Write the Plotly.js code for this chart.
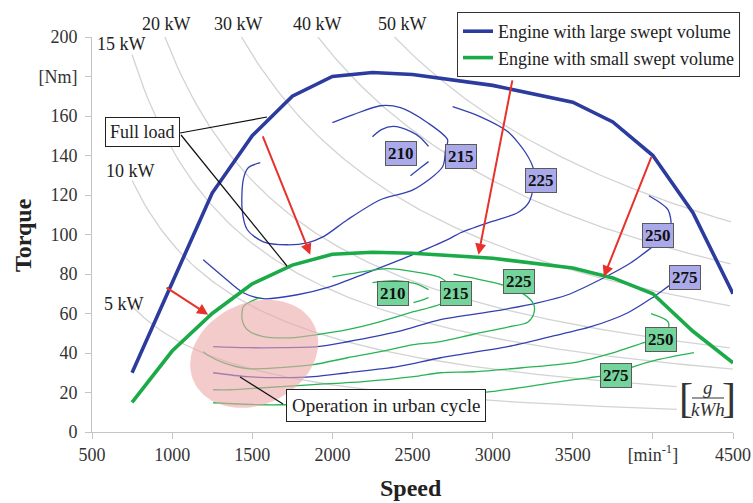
<!DOCTYPE html>
<html>
<head>
<meta charset="utf-8">
<script src="https://cdn.plot.ly/plotly-3.0.1.min.js"></script>
<style>
  html, body { margin: 0; padding: 0; background: #ffffff; }
  #chart { width: 753px; height: 503px; }
</style>
</head>
<body>
<div id="chart"></div>
<script>
// Full-load torque curves [Nm] over engine speed [1/min]
const fullLoadSpeed = [750, 1000, 1250, 1500, 1750, 2000, 2250, 2500, 3000, 3500, 3750, 4000, 4250, 4500];
const fullLoadLarge = [30, 75, 121, 150, 170, 180, 182, 181, 175.5, 167, 157, 140, 111, 70];
const fullLoadSmall = [15, 41, 60, 75, 84.5, 90, 91, 90.5, 88, 83, 78, 70, 51, 35];

// Constant-power lines [kW]
const powerLevels = [5, 10, 15, 20, 30, 40, 50];
const powerLabels = ['5 kW', '10 kW', '15 kW', '20 kW', '30 kW', '40 kW', '50 kW'];
const powerLineEnd = [4150, 4150, 4500, 4500, 4500, 4500, 4500];

// BSFC iso-lines [g/kWh], large swept volume engine
const large210Speed = [2250, 2306, 2381, 2487, 2550, 2600, null, 2600, 2550, 2487];
const large210Torque = [149.5, 153.1, 154.7, 152.2, 149, 144.6, null, 136.9, 133.8, 129.8];
const large215Speed = [2000, 2131, 2300, 2425, 2594, 2719, 2706, 2688, 2506, 2300, 2094, 1944, 1844, 1719, 1569, 1469, 1437, 1444, 1475, 1550];
const large215Torque = [156.6, 160.7, 165.2, 164.2, 156.6, 148.0, 142.9, 134.3, 122.7, 117.6, 107.5, 98.9, 95.8, 94.8, 96.3, 102.4, 112.6, 127.8, 133.8, 136.4];
const large225Speed = [2750, 2925, 3094, 3206, 3256, 3256, 3225, 3156, 2988, 2800, 2719, 2488, 2219, 1988, 1781, 1569, 1444, 1319, 1194];
const large225Torque = [164.7, 159.6, 152.1, 141.4, 132.8, 125.2, 116.1, 111.0, 106.4, 100.9, 97.4, 89.3, 80.7, 73.6, 69.5, 67.5, 70.5, 78.6, 87.2];
const large250Speed = [3975, 4094, 4113, 4081, 4006, 3863, 3694, 3469, 3281, 2988, 2675, 2406, 2094, 1906, 1675, 1469, 1256];
const large250Torque = [119.6, 112.6, 104.0, 98.9, 94.3, 85.7, 78.1, 69.5, 65.4, 60.9, 56.9, 50.8, 45.7, 43.2, 42.7, 42.7, 43.2];
const large275Speed = [4281, 4200, 4131, 4006, 3844, 3613, 3363, 3094, 2675, 2406, 2094, 1881, 1675, 1469, 1256];
const large275Torque = [82.2, 78.1, 75.6, 68.5, 60.4, 53.3, 48.3, 43.2, 37.6, 33.1, 30.0, 28.0, 27.5, 28.0, 30.0];

// BSFC iso-lines [g/kWh], small swept volume engine
const small210Speed = [2250, 2394, 2519, 2600, null, 2600, 2550, 2506];
const small210Torque = [75.6, 76.6, 75.1, 72.1, null, 68.0, 66.5, 65.5];
const small215Speed = [2000, 2156, 2344, 2506, 2675, 2725, 2700, 2506, 2300, 2094, 1906, 1738, 1569, 1469, 1437, 1444, 1488, 1550];
const small215Torque = [78.6, 80.7, 82.7, 81.2, 78.1, 74.1, 66.0, 60.9, 55.9, 51.8, 49.3, 47.7, 48.3, 51.8, 56.9, 63.4, 66.0, 68.0];
const small225Speed = [2756, 2906, 3050, 3194, 3256, 3256, 3219, 3094, 2881, 2675, 2506, 2300, 2094, 1881, 1675, 1469, 1319, 1219, 1194];
const small225Torque = [79.9, 77.4, 74.8, 69.8, 64.7, 59.7, 55.6, 53.1, 49.5, 45.8, 44.2, 40.7, 37.6, 34.1, 32.6, 32.1, 35.1, 39.1, 40.7];
const small250Speed = [3988, 4094, 4094, 4050, 3944, 3756, 3506, 3194, 2881, 2675, 2506, 2194, 1881, 1569, 1363, 1256];
const small250Torque = [59.9, 55.9, 51.8, 47.7, 45.2, 40.2, 35.1, 32.6, 30.5, 30.0, 28.0, 25.5, 24.0, 22.4, 21.4, 21.4];
const small275Speed = [4256, 4031, 3881, 3769, 3506, 3300, 2988, 2613, 2113, 1694, 1550, 1256];
const small275Torque = [40.2, 36.6, 33.1, 29.5, 26.5, 24.0, 20.4, 17.4, 15.3, 13.8, 13.8, 14.8];

// Iso-line value tags
const bsfcTags = ['210', '215', '225', '250', '275'];
const tagLargeSpeed = [2431, 2800, 3300, 4031, 4200];
const tagLargeTorque = [140.9, 139.4, 127.2, 99.3, 78.1];
const tagSmallSpeed = [2381, 2769, 3162, 4050, 3769];
const tagSmallTorque = [70.0, 70.0, 76.1, 46.8, 28.5];

// Downsizing shift arrows (large -> small engine)
const shiftFromSpeed = [956, 1562, 3125, 3994];
const shiftFromTorque = [73.6, 150.5, 178.8, 139.9];
const shiftToSpeed = [1225, 1862, 2912, 3694];
const shiftToTorque = [59.4, 89.8, 89.8, 78.6];

// Urban-cycle operating region (centre in speed/torque, semi-axes in px)
const urbanCentre = [1512, 39.6];
const urbanAxesPx = [66.5, 51];
const urbanTiltDeg = 25;

const FONT = "'Liberation Serif', 'Times New Roman', serif";
const BLUE = '#2c3b9e';
const BLUE_THIN = '#3340b0';
const GREEN = '#1aaa48';
const GREEN_THIN = '#26b455';

const W = 753, H = 503;
const M = { l: 92, r: 20, t: 37, b: 71 };
const plotW = W - M.l - M.r, plotH = H - M.t - M.b;
const xRange = [500, 4500], yRange = [0, 200];
const rpmPerPx = (xRange[1] - xRange[0]) / plotW;
const nmPerPx = (yRange[1] - yRange[0]) / plotH;
// pixel -> paper helpers for free-standing text
const px = v => (v - M.l) / plotW;
const py = v => (H - M.b - v) / plotH;

const traces = [];

// iso-power hyperbolas: T = 9549.3 * P / n
powerLevels.forEach((p, i) => {
  const k = 9549.3 * p;
  const nStart = Math.max(750, k / yRange[1]);
  const xs = [], ys = [];
  for (let n = nStart; n <= powerLineEnd[i] + 1e-6; n += 25) { xs.push(n); ys.push(k / n); }
  traces.push({ x: xs, y: ys, mode: 'lines', line: { color: '#d3d3d3', width: 1.3 }, hoverinfo: 'skip', showlegend: false });
});

function iso(xs, ys, color) {
  return { x: xs, y: ys, mode: 'lines', line: { color: color, width: 1.3, shape: 'spline', smoothing: 0.8 },
           connectgaps: false, hoverinfo: 'skip', showlegend: false };
}
traces.push(iso(large210Speed, large210Torque, BLUE_THIN));
traces.push(iso(large215Speed, large215Torque, BLUE_THIN));
traces.push(iso(large225Speed, large225Torque, BLUE_THIN));
traces.push(iso(large250Speed, large250Torque, BLUE_THIN));
traces.push(iso(large275Speed, large275Torque, BLUE_THIN));
traces.push(iso(small210Speed, small210Torque, GREEN_THIN));
traces.push(iso(small215Speed, small215Torque, GREEN_THIN));
traces.push(iso(small225Speed, small225Torque, GREEN_THIN));
traces.push(iso(small250Speed, small250Torque, GREEN_THIN));
traces.push(iso(small275Speed, small275Torque, GREEN_THIN));

// translucent urban-cycle region over the iso-lines
(function () {
  const a = urbanAxesPx[0], b = urbanAxesPx[1], th = urbanTiltDeg * Math.PI / 180;
  const xs = [], ys = [];
  for (let i = 0; i <= 90; i++) {
    const t = 2 * Math.PI * i / 90;
    const dx = a * Math.cos(t) * Math.cos(th) - b * Math.sin(t) * Math.sin(th);
    const dy = a * Math.cos(t) * Math.sin(th) + b * Math.sin(t) * Math.cos(th);
    xs.push(urbanCentre[0] + dx * rpmPerPx);
    ys.push(urbanCentre[1] + dy * nmPerPx);
  }
  traces.push({ x: xs, y: ys, mode: 'lines', fill: 'toself', fillcolor: 'rgba(236,168,168,0.6)',
                line: { width: 0, color: 'rgba(0,0,0,0)' }, hoverinfo: 'skip', showlegend: false });
})();

traces.push({ x: fullLoadSpeed, y: fullLoadLarge, mode: 'lines', name: 'Engine with large swept volume',
              line: { color: BLUE, width: 3.6 } });
traces.push({ x: fullLoadSpeed, y: fullLoadSmall, mode: 'lines', name: 'Engine with small swept volume',
              line: { color: GREEN, width: 3.6 } });

const annotations = [];
const shapes = [];

// free text placed by its centre in pixels
function freeText(text, cx, cy, size, extra) {
  return Object.assign({ text: text, xref: 'paper', yref: 'paper', x: px(cx), y: py(cy),
                         xanchor: 'center', yanchor: 'middle', showarrow: false,
                         font: { family: FONT, size: size, color: '#222' } }, extra || {});
}

// power labels
const powerLabelPx = [[124, 304], [130, 171], [121, 44], [166, 24], [238, 24], [317, 24], [402, 24]];
powerLabels.forEach((t, i) => {
  annotations.push(freeText(t, powerLabelPx[i][0], powerLabelPx[i][1], 18));
});

// iso-line tags
function tag(txt, x, y, bg) {
  return { text: '<b>' + txt + '</b>', x: x, y: y, xref: 'x', yref: 'y', showarrow: false,
           xanchor: 'center', yanchor: 'middle',
           font: { family: FONT, size: 17, color: '#111' }, bgcolor: bg, bordercolor: '#5a5a5a',
           borderwidth: 1, borderpad: 2 };
}
bsfcTags.forEach((t, i) => {
  annotations.push(tag(t, tagLargeSpeed[i], tagLargeTorque[i], '#aaaaea'));
  annotations.push(tag(t, tagSmallSpeed[i], tagSmallTorque[i], '#74d49c'));
});

// shift arrows
shiftFromSpeed.forEach((s, i) => {
  annotations.push({ text: '', x: shiftToSpeed[i], y: shiftToTorque[i], ax: s, ay: shiftFromTorque[i],
                     xref: 'x', yref: 'y', axref: 'x', ayref: 'y', showarrow: true,
                     arrowhead: 2, arrowsize: 1.1, arrowwidth: 2, arrowcolor: '#e8312a', standoff: 0, startstandoff: 0 });
});

// call-out boxes
annotations.push(freeText('Full load', 142, 132, 18,
  { bgcolor: '#ffffff', bordercolor: '#222', borderwidth: 1, borderpad: 4 }));
annotations.push(freeText('Operation in urban cycle', 386, 405, 19,
  { bgcolor: '#ffffff', bordercolor: '#222', borderwidth: 1, borderpad: 5 }));
const leader = (x0, y0, x1, y1) => ({ type: 'line', xref: 'paper', yref: 'paper', x0: px(x0), y0: py(y0), x1: px(x1), y1: py(y1),
                                      line: { color: '#111', width: 1.2 } });
shapes.push(leader(180, 133, 267, 117));
shapes.push(leader(181, 135, 287, 266));
shapes.push(leader(283, 404, 240, 377));

// unit of the iso-lines: [g / kWh]
annotations.push(freeText('[', 686, 398, 42, { font: { family: FONT, size: 42, color: '#333' } }));
annotations.push(freeText(']', 729, 398, 42, { font: { family: FONT, size: 42, color: '#333' } }));
annotations.push(freeText('<i>g</i>', 708, 387, 19, { font: { family: FONT, size: 19, color: '#333' } }));
annotations.push(freeText('<i>kWh</i>', 708, 409, 19, { font: { family: FONT, size: 19, color: '#333' } }));
shapes.push({ type: 'line', xref: 'paper', yref: 'paper', x0: px(692), x1: px(724), y0: py(398), y1: py(398),
              line: { color: '#333', width: 1 } });

// axis titles
annotations.push(freeText('<b>Torque</b>', 23, 235, 24, { textangle: -90 }));
annotations.push(freeText('<b>Speed</b>', 411, 488, 24));

const layout = {
  width: W, height: H,
  margin: M,
  paper_bgcolor: '#ffffff', plot_bgcolor: '#ffffff',
  font: { family: FONT, size: 18, color: '#333' },
  xaxis: {
    range: xRange, showgrid: false, zeroline: false, showline: true, linecolor: '#c4c4c4', linewidth: 1,
    ticks: 'outside', ticklen: 6, tickcolor: '#c4c4c4',
    tickvals: [500, 1000, 1500, 2000, 2500, 3000, 3500, 4000, 4500],
    ticktext: ['500', '1000', '1500', '2000', '2500', '3000', '3500', '[min<sup>-1</sup>]', '4500'],
    tickfont: { family: FONT, size: 18, color: '#333' }
  },
  yaxis: {
    range: yRange, showgrid: false, zeroline: false, showline: true, linecolor: '#c4c4c4', linewidth: 1,
    ticks: 'outside', ticklen: 6, tickcolor: '#c4c4c4', ticklabelstandoff: 4,
    tickvals: [0, 20, 40, 60, 80, 100, 120, 140, 160, 180, 200],
    ticktext: ['0', '20', '40', '60', '80', '100', '120', '140', '160', '[Nm]', '200'],
    tickfont: { family: FONT, size: 18, color: '#333' }
  },
  showlegend: true,
  legend: {
    x: px(457), y: py(12), xanchor: 'left', yanchor: 'top',
    bgcolor: '#ffffff', bordercolor: '#333', borderwidth: 1,
    font: { family: FONT, size: 18, color: '#222' },
    itemwidth: 30, tracegroupgap: 0, tracegroupgap: 0, valign: 'middle'
  },
  annotations: annotations,
  shapes: shapes
};

Plotly.newPlot('chart', traces, layout, { displayModeBar: false, staticPlot: true });
</script>
</body>
</html>
